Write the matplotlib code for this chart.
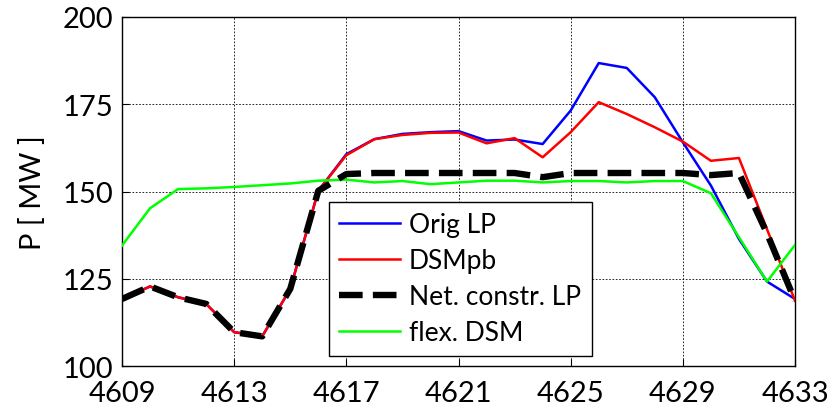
import numpy as np
import matplotlib
matplotlib.use('Agg')
import matplotlib.pyplot as plt

## time steps and power series [MW]
steps = np.arange(4609, 4634)
orig_lp = [119.2, 122.8, 119.7, 117.8, 109.7, 108.5, 122.1, 150.2, 160.7, 165.0,
           166.5, 167.0, 167.3, 164.6, 164.9, 163.6, 173.2, 186.8, 185.4, 177.0,
           164.1, 151.7, 136.4, 124.2, 119.2]
dsm_pb = [119.2, 122.8, 119.7, 117.8, 109.7, 108.5, 122.1, 150.2, 160.4, 165.0,
          166.2, 166.8, 166.9, 163.8, 165.3, 159.8, 167.0, 175.6, 172.2, 168.4,
          164.3, 158.8, 159.6, 139.2, 118.7]
net_lp = [119.2, 122.8, 119.7, 117.8, 109.7, 108.5, 122.1, 150.2, 155.0, 155.3,
          155.3, 155.3, 155.3, 155.3, 155.3, 154.1, 155.3, 155.3, 155.3, 155.3,
          155.3, 154.7, 155.3, 138.0, 118.7]
flex_dsm = [134.5, 145.2, 150.7, 150.9, 151.3, 151.8, 152.3, 153.1, 153.4, 152.6,
            153.0, 152.1, 152.6, 153.1, 153.1, 152.6, 153.0, 153.0, 152.6, 153.0,
            153.0, 149.5, 136.9, 124.2, 134.7]
xticks = [4609, 4613, 4617, 4621, 4625, 4629, 4633]
yticks = [100, 125, 150, 175, 200]

plt.rcParams['font.family'] = ['Lato', 'DejaVu Sans']

fig = plt.figure(figsize=(8.39, 4.06), dpi=100)
ax = fig.add_axes([0.1454, 0.096, 0.8022, 0.8597])

ax.plot(steps, orig_lp, color='#0000ff', linewidth=1.8, label='Orig LP', zorder=3)
ax.plot(steps, dsm_pb, color='#ff0000', linewidth=1.8, label='DSMpb', zorder=3)
ax.plot(steps, net_lp, color='k', linewidth=4.6, linestyle=(0, (3.7, 1.6)),
        label='Net. constr. LP', zorder=5)
ax.plot(steps, flex_dsm, color='#00ff00', linewidth=1.8, label='flex. DSM', zorder=4)

ax.set_xlim(4609, 4633)
ax.set_ylim(100, 200)
ax.set_xticks(xticks)
ax.set_yticks(yticks)
ax.tick_params(direction='in', labelsize=21, length=5, width=0.8)
ax.tick_params(axis='x', pad=10)
ax.tick_params(axis='y', pad=6)
ax.grid(True, color='k', linestyle=(0, (2, 2)), linewidth=0.6)
for s in ax.spines.values():
    s.set_linewidth(1.0)

ax.set_ylabel('P [ MW ]', fontsize=21, labelpad=12)

leg = ax.legend(loc='lower left', bbox_to_anchor=(0.307, 0.029), borderaxespad=0,
                fontsize=19, fancybox=False, framealpha=1, edgecolor='k',
                handlelength=2.3, labelspacing=0.42, borderpad=0.4, handletextpad=0.35)
leg.get_frame().set_linewidth(1.0)
leg.set_zorder(10)

plt.savefig('out.png', dpi=100)
